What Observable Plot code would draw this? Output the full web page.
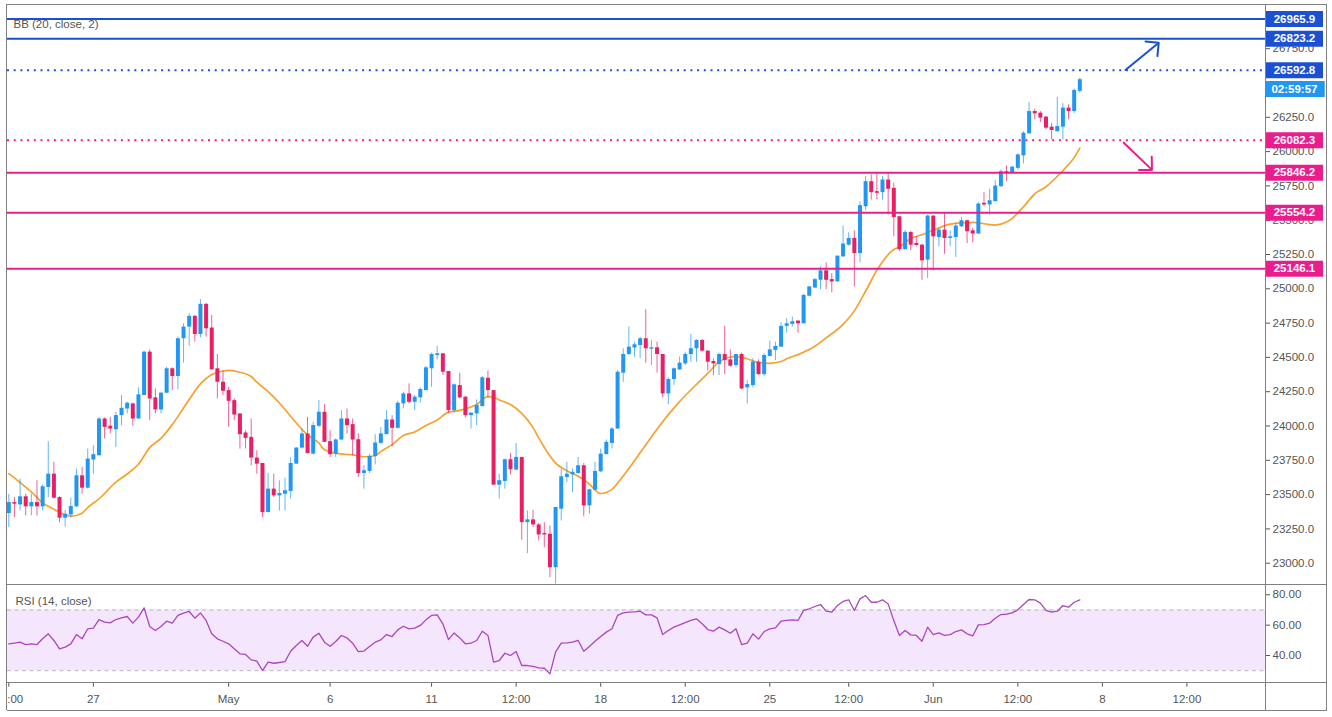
<!DOCTYPE html>
<html><head><meta charset="utf-8">
<script src="https://cdn.jsdelivr.net/npm/d3@7"></script>
<script src="https://cdn.jsdelivr.net/npm/@observablehq/plot@0.6"></script>
<style>
html,body{margin:0;padding:0;background:#fff;}
#wrap{position:relative;width:1332px;height:717px;overflow:hidden;font-family:"Liberation Sans",Arial,sans-serif;}
.ln{position:absolute;background:#808080;}
</style></head><body><div id="wrap"></div>
<script>
// ---------- data ----------
const opens = [23362,23442,23425,23484,23411,23442,23411,23552,23649,23479,
23328,23352,23411,23637,23547,23752,23783,24051,23998,23973,
24076,24124,24161,24051,24222,24538,24205,24117,24239,24417,
24361,24636,24721,24799,24667,24887,24714,24417,24319,24258,
24185,24088,23949,23917,23766,23727,23369,23540,23491,23503,
23523,23722,23839,23942,23795,23998,24100,23886,23795,23898,
24051,24010,23900,23654,23669,23778,23873,23937,24044,23983,
24161,24234,24173,24205,24258,24417,24514,24526,24397,24112,
24295,24210,24076,24088,24141,24348,24258,23569,23596,23754,
23679,23771,23296,23316,23279,23216,23211,22967,23394,23625,
23644,23654,23710,23418,23532,23666,23791,23873,23978,24385,
24521,24568,24587,24636,24560,24570,24521,24234,24339,24409,
24453,24521,24563,24624,24546,24470,24448,24521,24482,24441,
24521,24278,24295,24465,24375,24507,24551,24575,24726,24741,
24765,24745,24946,25006,25062,25131,25067,25050,25233,25318,
25367,25257,25598,25781,25708,25701,25793,25732,25525,25286,
25411,25330,25318,25209,25530,25374,25428,25367,25374,25452,
25496,25423,25399,25623,25611,25635,25744,25854,25847,25878,
25969,26129,26292,26280,26251,26178,26146,26178,26317,26292,
26439];
const highs = [23503,23479,23613,23503,23503,23601,23571,23886,23735,23484,
23386,23474,23686,23698,23832,23856,24063,24059,24063,24100,
24222,24173,24166,24278,24546,24555,24270,24246,24429,24424,
24648,24745,24818,24806,24921,24892,24806,24521,24400,24283,
24197,24088,23966,24051,23820,23727,23654,23649,23601,23620,
23771,23844,23978,24063,24027,24185,24156,23966,23905,24112,
24124,24051,23942,23710,23795,23937,23990,24112,24076,24180,
24246,24307,24222,24278,24434,24531,24580,24531,24397,24307,
24385,24214,24100,24190,24361,24400,24258,23649,23759,23800,
23873,23771,23381,23386,23289,23296,23272,23406,23686,23735,
23686,23771,23727,23540,23735,23832,23898,23990,24404,24563,
24721,24611,24648,24848,24624,24611,24521,24351,24424,24502,
24538,24667,24628,24628,24546,24490,24531,24726,24555,24521,
24531,24331,24490,24482,24526,24619,24611,24753,24782,24794,
24765,24960,25014,25075,25160,25189,25111,25238,25457,25408,
25423,25635,25818,25830,25847,25818,25842,25769,25525,25423,
25416,25379,25326,25537,25530,25440,25550,25423,25477,25520,
25501,25440,25628,25701,25725,25788,25866,25895,25895,25983,
26146,26358,26310,26292,26256,26207,26397,26349,26341,26456,
26536];
const lows = [23260,23333,23381,23345,23345,23345,23381,23479,23467,23296,
23264,23328,23406,23503,23540,23649,23783,23905,23942,23844,
24003,24088,23998,24051,24222,24039,24088,24088,24234,24258,
24263,24458,24582,24611,24643,24648,24409,24197,24222,23990,
24039,23832,23832,23710,23649,23333,23369,23479,23381,23381,
23467,23722,23832,23795,23791,23990,23881,23771,23771,23893,
23942,23783,23625,23540,23654,23717,23864,23937,23849,23978,
24124,24161,24112,24166,24258,24283,24482,24368,24093,24093,
24197,24059,23978,24003,24141,24205,23569,23467,23540,23644,
23674,23167,23070,23260,23162,23113,22894,22848,23308,23588,
23515,23649,23338,23357,23528,23662,23791,23832,23978,24319,
24514,24502,24490,24458,24441,24385,24205,24156,24295,24404,
24441,24465,24465,24538,24400,24368,24368,24375,24429,24424,
24263,24161,24278,24368,24361,24502,24477,24575,24677,24721,
24677,24745,24941,25002,24994,24994,24970,25050,25228,25311,
25014,25189,25569,25647,25647,25647,25537,25379,25270,25277,
25277,25306,25062,25075,25131,25306,25252,25306,25228,25447,
25330,25335,25399,25598,25537,25635,25740,25781,25847,25866,
25910,26129,26232,26212,26159,26085,26139,26085,26232,26275,
26426];
const closes = [23442,23430,23484,23411,23442,23411,23557,23649,23474,23328,
23357,23413,23637,23547,23759,23791,24051,23990,23978,24076,
24129,24166,24051,24227,24538,24197,24117,24239,24417,24361,
24636,24721,24799,24667,24887,24709,24409,24319,24253,24180,
24080,23937,23910,23766,23722,23369,23540,23491,23508,23528,
23727,23839,23942,23800,24003,24100,23881,23791,23898,24051,
24003,23898,23654,23674,23778,23876,23942,24044,23983,24166,
24234,24173,24210,24266,24424,24521,24526,24392,24112,24300,
24205,24076,24093,24149,24351,24258,23569,23601,23754,23681,
23771,23296,23316,23279,23206,23206,22967,23406,23630,23649,
23662,23710,23418,23535,23669,23795,23881,23978,24392,24521,
24575,24592,24636,24563,24570,24521,24234,24339,24417,24458,
24521,24563,24624,24546,24465,24453,24521,24477,24436,24521,
24270,24302,24465,24375,24514,24555,24580,24726,24745,24760,
24745,24952,25014,25067,25131,25062,25050,25238,25326,25367,
25257,25606,25781,25701,25696,25793,25725,25520,25286,25411,
25318,25316,25204,25530,25379,25428,25367,25379,25457,25496,
25416,25399,25618,25611,25642,25749,25854,25842,25886,25976,
26134,26292,26275,26244,26171,26154,26183,26317,26292,26446,
26524];
// Bollinger basis (20, close)
const maBars = [1,3,5,7,9,11,12,14,15,17,20,22,24,26,28,30,32,33,35,37,
39,40,42,44,45,47,49,50,52,54,56,57,59,62,64,66,67,69,71,73,
75,77,79,81,82,84,86,87,88,90,92,94,95,97,98,100,102,104,105,106,
108,110,116,118,120,123,125,127,129,130,132,134,136,138,139,141,144,146,149,151,
153,155,158,159,161,163,165,168,170,172,174,176,178,179,181,183,185,188,190,191];
const maValues = [23653,23588,23520,23440,23394,23352,23343,23365,23406,23469,
23591,23650,23721,23842,23910,24010,24131,24193,24307,24375,
24401,24405,24392,24361,24319,24251,24168,24120,24022,23935,
23876,23827,23802,23789,23776,23783,23815,23864,23930,23957,
24003,24044,24101,24114,24125,24156,24214,24211,24190,24156,
24092,23988,23915,23781,23729,23674,23634,23577,23534,23508,
23538,23636,23977,24083,24178,24304,24383,24467,24503,24507,
24490,24463,24457,24470,24490,24520,24581,24642,24741,24839,
24982,25135,25286,25305,25367,25394,25427,25471,25481,25484,
25474,25464,25486,25513,25598,25691,25744,25862,25956,26025];
// RSI (14, close)
const rsiValues = [47.7,48.1,48.8,47.2,47.7,47.2,51.0,54.3,49.9,44.4,
45.5,47.7,53.8,51.0,57.6,58.0,63.7,62.0,61.5,63.7,
64.8,65.7,61.3,65.3,71.4,59.1,56.5,59.1,62.6,61.3,
66.4,67.9,69.0,64.6,68.1,63.1,54.3,51.0,49.4,47.7,
44.4,41.1,40.7,37.1,36.3,30.1,35.6,34.9,35.4,36.0,
42.8,46.6,49.9,46.1,52.1,54.7,48.8,46.1,49.2,53.2,
51.6,48.1,42.6,42.9,45.9,48.8,50.3,53.8,52.5,56.9,
59.3,57.6,58.0,59.8,63.5,66.4,66.8,60.9,50.5,54.9,
51.6,47.7,48.1,49.9,56.0,53.2,35.6,36.7,41.5,40.0,
42.6,33.4,33.4,32.8,31.9,31.6,27.9,42.2,48.1,48.3,
48.8,49.9,42.8,45.9,49.4,52.5,55.4,57.6,66.4,68.1,
68.6,68.8,69.2,66.8,66.8,64.8,53.8,56.5,58.7,60.2,
61.7,63.1,64.2,60.9,57.1,56.0,58.7,56.9,54.7,57.6,
47.2,48.1,54.3,50.8,55.8,57.6,58.2,62.6,63.1,63.5,
63.1,69.7,70.8,72.3,73.6,69.2,68.6,72.9,75.6,76.7,
69.7,77.3,79.5,75.1,75.1,76.7,74.0,63.0,53.2,56.5,
53.6,53.2,49.4,58.7,53.8,54.9,53.2,53.8,55.8,56.9,
54.3,52.9,60.2,60.4,61.3,64.6,67.0,67.2,68.1,70.1,
73.6,76.9,76.7,74.5,69.7,68.6,69.2,72.9,71.8,75.1,76.7];
const rsiBandLevels = [30, 70];
const rsiTicks = [40, 60, 80];
// horizontal levels
const levelPrices = [26965.9, 26823.2, 26592.8, 26082.3, 25846.2, 25554.2, 25146.1];
const levelSide   = ["up","up","up","down","down","down","down"];
const levelKind   = ["target","target","trigger","trigger","target","target","target"];
// countdown label
const timerText = "02:59:57";
const timerPrice = 26456;
// arrows (bar, price)
const arrowFromBar = [199.1, 198.8], arrowFromPrice = [26595, 26065];
const arrowToBar   = [205.0, 203.8], arrowToPrice   = [26793, 25867];
const arrowSide    = ["up", "down"];
// axes (26500.0 sits fully under the countdown label in the reference)
const priceTicks = [23000,23250,23500,23750,24000,24250,24500,24750,25000,25250,25500,25750,26000,26250,26750];
const xTickBars   = [1,16,40,58,76,91,106,121,136,150,165,180,195,210];
const xTickLabels = ["12:00","27","May","6","11","12:00","18","12:00","25","12:00","Jun","12:00","8","12:00"];

// ---------- build ----------
const candles = closes.map((c, i) => ({bar: i + 1, open: opens[i], high: highs[i], low: lows[i], close: c}));
const ma = maBars.map((b, i) => ({bar: b, value: maValues[i]}));
const rsi = rsiValues.map((v, i) => ({bar: i + 1, rsi: v}));
const levels = levelPrices.map((p, i) => ({price: p, side: levelSide[i], kind: levelKind[i]}));
const arrows = arrowSide.map((s, i) => ({x1: arrowFromBar[i], y1: arrowFromPrice[i], x2: arrowToBar[i], y2: arrowToPrice[i], side: s}));
const tickLabelMap = new Map(xTickBars.map((b, i) => [b, xTickLabels[i]]));

const UP = "#2196f3", DOWN = "#e91e63";
const LVL_UP = "#1c50d2", LVL_DOWN = "#e91e8c";
const isUp = d => d.close >= d.open;
const lvlColor = d => d.side === "up" ? LVL_UP : LVL_DOWN;

// bar <-> pixel geometry of the frame (frame spans x 7..1265)
const X0 = 0.769, X1 = 223.94;
const BOX_L = X1, BOX_R = 234.23, BOX_C = 229.08;
const FONT = '"Liberation Sans", Arial, sans-serif';

const mainChart = Plot.plot({
  width: 1332, height: 584,
  marginLeft: 7, marginRight: 67, marginTop: 0, marginBottom: 0,
  style: {fontFamily: FONT, fontSize: "11.5px", color: "#555", background: "transparent", overflow: "visible"},
  x: {domain: [X0, X1], axis: null},
  y: {domain: [22844.8, 27101.3], axis: "right", ticks: priceTicks, tickFormat: d => d.toFixed(1), tickSize: 4, tickPadding: 3, label: null},
  marks: [
    Plot.text(["BB (20, close, 2)"], {frameAnchor: "top-left", dx: 6, dy: 23.5, textAnchor: "start", lineAnchor: "middle", fill: "#555", fontSize: 11.5}),
    Plot.line(ma, {x: "bar", y: "value", stroke: "#f6a22e", strokeWidth: 1.7, curve: "monotone-x"}),
    Plot.ruleX(candles, {x: "bar", y1: "low", y2: "high", stroke: d => isUp(d) ? UP : DOWN, strokeOpacity: 0.7, strokeWidth: 1}),
    Plot.ruleX(candles, {x: "bar", y1: "open", y2: "close", stroke: d => isUp(d) ? UP : DOWN, strokeWidth: 4}),
    Plot.ruleY(levels.filter(d => d.kind !== "trigger"), {y: "price", stroke: lvlColor, strokeWidth: 2}),
    Plot.ruleY(levels.filter(d => d.kind === "trigger"), {y: "price", stroke: lvlColor, strokeWidth: 2, strokeDasharray: "2,4.7"}),
    Plot.arrow(arrows, {x1: "x1", y1: "y1", x2: "x2", y2: "y2", stroke: d => d.side === "up" ? LVL_UP : LVL_DOWN, strokeWidth: 2, headAngle: 90, headLength: 10}),
    Plot.ruleY(levels, {y: "price", x1: () => BOX_L, x2: () => BOX_R, stroke: lvlColor, strokeWidth: 16}),
    Plot.text(levels, {x: () => BOX_C, y: "price", text: d => d.price.toFixed(1), fill: "white", fontWeight: "bold", fontSize: 11.5}),
    Plot.ruleY([timerPrice], {y: d => d, x1: () => BOX_L, x2: () => BOX_R + 0.3, stroke: "#2196f3", strokeWidth: 16}),
    Plot.text([timerPrice], {x: () => BOX_C, y: d => d, text: () => timerText, fill: "white", fontWeight: "bold", fontSize: 11.5})
  ]
});

const rsiChart = Plot.plot({
  width: 1332, height: 133,
  marginLeft: 7, marginRight: 67, marginTop: 0, marginBottom: 34.3,
  style: {fontFamily: FONT, fontSize: "11.5px", color: "#555", background: "transparent", overflow: "visible"},
  x: {domain: [X0, X1], ticks: xTickBars, tickFormat: d => tickLabelMap.get(d), tickSize: 4, tickPadding: 7.3, label: null},
  y: {domain: [21.75, 86.79], axis: "right", ticks: rsiTicks, tickFormat: d => d.toFixed(2), tickSize: 4, tickPadding: 3, label: null},
  marks: [
    Plot.rect([rsiBandLevels], {x1: () => X0, x2: () => X1, y1: d => d[0], y2: d => d[1], fill: "#f3e6fd"}),
    Plot.ruleY(rsiBandLevels, {stroke: "#b8b2c0", strokeDasharray: "4,3.5"}),
    Plot.line(rsi, {x: "bar", y: "rsi", stroke: "#ab47bc", strokeWidth: 1.3}),
    Plot.text(["RSI (14, close)"], {frameAnchor: "top-left", dx: 8, dy: 16.7, textAnchor: "start", lineAnchor: "middle", fill: "#555", fontSize: 11.5})
  ]
});

const wrap = document.getElementById("wrap");
function place(node, top) {
  const d = document.createElement("div");
  d.style.cssText = `position:absolute;left:0;top:${top}px;width:1332px;`;
  d.appendChild(node);
  wrap.appendChild(d);
}
place(mainChart, 0);
place(rsiChart, 584);
function box(l, t, w, h, bg) {
  const d = document.createElement("div");
  d.className = "ln";
  d.style.cssText += `left:${l}px;top:${t}px;width:${w}px;height:${h}px;` + (bg ? `background:${bg};` : "");
  wrap.appendChild(d);
}
// white gutters outside the frame
box(0, 0, 6.5, 717, "#fff");
box(1326.5, 0, 6, 717, "#fff");
box(0, 710.5, 1332, 7, "#fff");
// frame lines
box(6.5, 4, 1320, 1);
box(6.2, 4, 1, 706);
box(1264.5, 4, 1, 706);
box(1326, 4, 1, 706);
box(6.5, 583.5, 1320, 1);
box(6.5, 682.2, 1320, 1);
box(6.5, 709.5, 1320, 1);
</script></body></html>
